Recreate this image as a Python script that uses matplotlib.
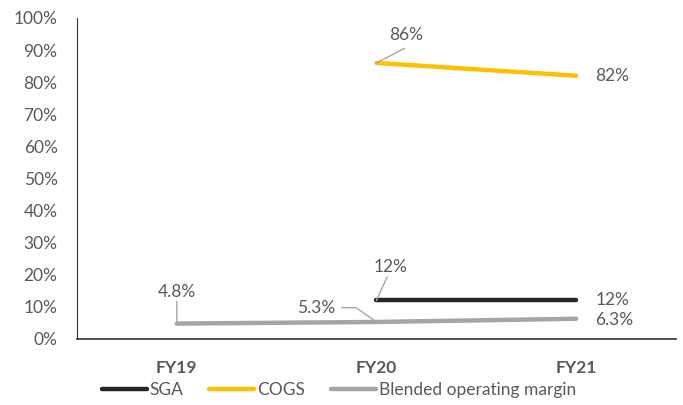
import matplotlib.pyplot as plt
import numpy as np

# datos del gráfico
anios = ['FY19', 'FY20', 'FY21']
sga = [np.nan, 12, 12]
cogs = [np.nan, 86, 82]
margen = [4.8, 5.3, 6.3]
etiquetas_sga = ['', '12%', '12%']
etiquetas_cogs = ['', '86%', '82%']
etiquetas_margen = ['4.8%', '5.3%', '6.3%']

plt.rcParams['font.family'] = ['Lato', 'DejaVu Sans']
gris_texto = '#595959'
tam = 12.5

fig = plt.figure(figsize=(6.83, 4.05), dpi=100)
ax = fig.add_axes([0.1127, 0.163, 0.877, 0.7926])

x = np.arange(len(anios))
ax.plot(x, sga, color='#262626', lw=3.2, solid_capstyle='round', label='SGA')
ax.plot(x, cogs, color='#FFC000', lw=3.2, solid_capstyle='round', label='COGS')
ax.plot(x, margen, color='#A5A5A5', lw=3.2, solid_capstyle='round', label='Blended operating margin')

ax.set_xlim(-0.5, 2.5)
ax.set_ylim(0, 100)
ax.set_yticks(range(0, 101, 10))
ax.set_yticklabels([f'{v}%' for v in range(0, 101, 10)])
ax.set_xticks(x)
ax.set_xticklabels(anios, fontweight='bold')
ax.tick_params(axis='both', length=0, labelsize=tam, colors=gris_texto)
ax.tick_params(axis='x', pad=15)
ax.tick_params(axis='y', pad=14)
for lado in ['top', 'right']:
    ax.spines[lado].set_visible(False)
ax.spines['left'].set_color('#333333')
ax.spines['bottom'].set_color('#333333')
ax.spines['bottom'].set_linewidth(1.2)

lider = dict(arrowstyle='-', color='#A6A6A6', lw=1, shrinkA=0, shrinkB=0, patchA=None)
txt = dict(fontsize=tam, color=gris_texto)

# etiquetas con líneas guía
ax.annotate(etiquetas_margen[0], xy=(x[0], margen[0]), xytext=(x[0], 14.5),
            ha='center', va='center',
            arrowprops=dict(lider, relpos=(0.5, -0.05)), **txt)
ax.annotate(etiquetas_margen[1], xy=(x[1], margen[1]), xytext=(x[1] - 0.3, 9.5),
            ha='center', va='center',
            arrowprops=dict(lider, relpos=(1.15, 0.55),
                            connectionstyle='angle,angleA=0,angleB=145,rad=0'), **txt)
ax.annotate(etiquetas_margen[2], xy=(x[2], margen[2]), xytext=(x[2] + 0.19, 6.0),
            ha='center', va='center', **txt)

ax.annotate(etiquetas_sga[1], xy=(x[1], sga[1]), xytext=(x[1] + 0.07, 22.5),
            ha='center', va='center', arrowprops=dict(lider, relpos=(0.4, -0.15)), **txt)
ax.annotate(etiquetas_sga[2], xy=(x[2], sga[2]), xytext=(x[2] + 0.18, 12.0),
            ha='center', va='center', **txt)

ax.annotate(etiquetas_cogs[1], xy=(x[1], cogs[1]), xytext=(x[1] + 0.15, 94.8),
            ha='center', va='center', arrowprops=dict(lider, relpos=(0.45, -0.35)), **txt)
ax.annotate(etiquetas_cogs[2], xy=(x[2], cogs[2]), xytext=(x[2] + 0.18, 82.0),
            ha='center', va='center', **txt)

leg = fig.legend(loc='center', bbox_to_anchor=(0.496, 0.036), ncol=3, frameon=False,
                 fontsize=tam, handlelength=2.6, handletextpad=0.15, columnspacing=1.5,
                 labelcolor=gris_texto)

fig.savefig('out.png', dpi=100)
